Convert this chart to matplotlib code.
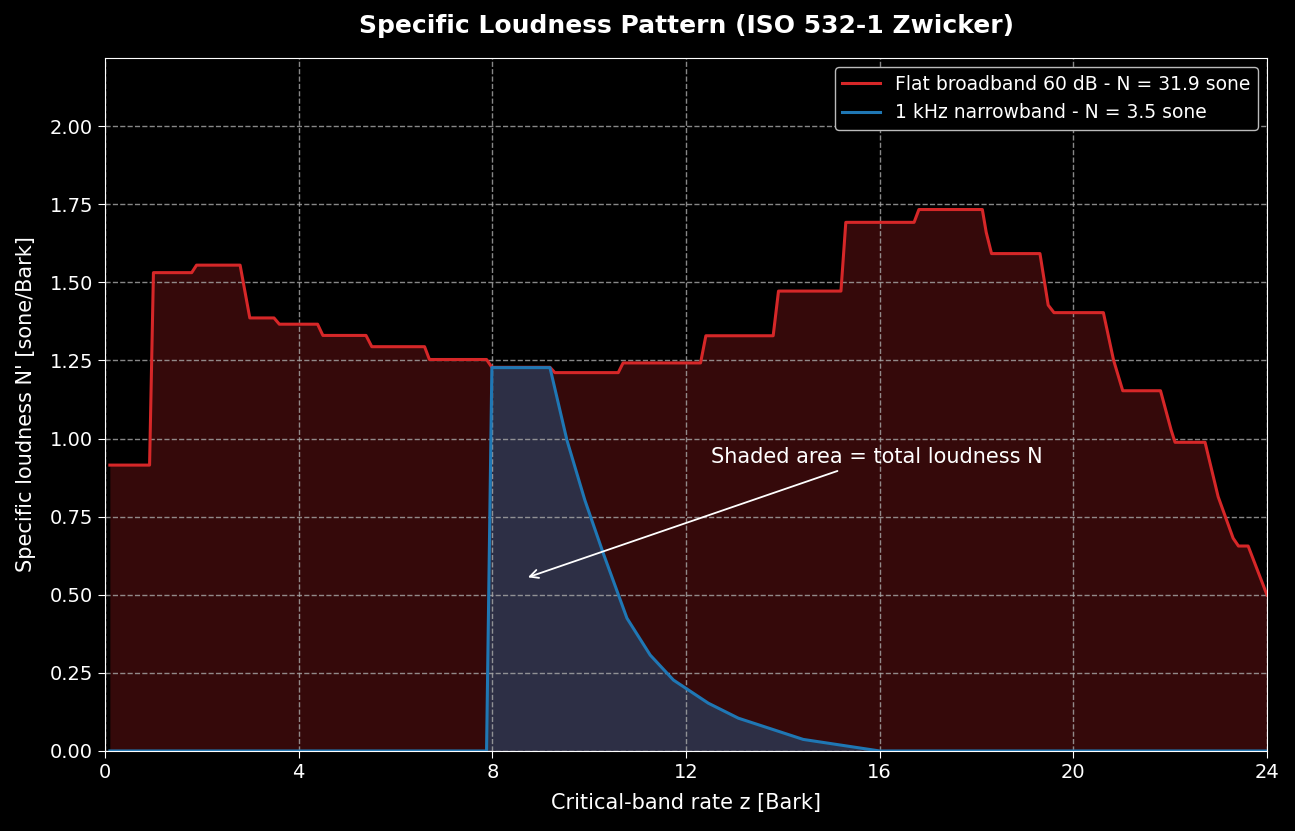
import numpy as np
import matplotlib.pyplot as plt

plt.rcParams['font.family'] = ['DejaVu Sans']

# flat broadband 60 dB, specific loudness
z_flat = [0.1, 0.92, 1.0, 1.79, 1.89, 2.79, 2.99, 3.49, 3.6, 4.39, 4.5, 5.39, 5.51,
          6.6, 6.7, 7.88, 7.99, 9.19, 9.29, 10.6, 10.7, 12.3, 12.41, 13.8, 13.91,
          15.2, 15.3, 16.71, 16.81, 18.12, 18.2, 18.31, 19.31, 19.48, 19.6, 20.62,
          20.83, 21.02, 21.8, 22.02, 22.1, 22.72, 22.99, 23.3, 23.41, 23.61, 24.0]
n_flat = [0.915, 0.915, 1.531, 1.531, 1.555, 1.555, 1.386, 1.386, 1.366, 1.366,
          1.33, 1.33, 1.294, 1.294, 1.253, 1.253, 1.228, 1.228, 1.211, 1.211,
          1.242, 1.242, 1.329, 1.329, 1.472, 1.472, 1.692, 1.692, 1.733, 1.733,
          1.66, 1.592, 1.592, 1.427, 1.403, 1.403, 1.251, 1.153, 1.153, 1.027,
          0.988, 0.988, 0.814, 0.681, 0.656, 0.656, 0.499]

# 1 kHz narrowband
z_tone = [0.1, 7.88, 7.99, 9.19, 9.54, 9.91, 10.29, 10.78, 11.26, 11.74, 12.46, 13.08,
          14.42, 16.0, 24.0]
n_tone = [0.0, 0.0, 1.227, 1.227, 0.995, 0.803, 0.633, 0.425, 0.307, 0.227, 0.153,
          0.105, 0.037, 0.0, 0.0]

N_flat = 31.9
N_tone = 3.5

red = '#d62728'
blue = '#1f77b4'

fig = plt.figure(figsize=(12.95, 8.31), dpi=100, facecolor='black')
ax = fig.add_axes([0.0811, 0.0963, 0.8973, 0.8339], facecolor='black')

ax.fill_between(z_flat, n_flat, 0, color=red, alpha=0.25, linewidth=0)
ax.plot(z_flat, n_flat, color=red, lw=2.2, label=f'Flat broadband 60 dB - N = {N_flat} sone')
ax.fill_between(z_tone, n_tone, 0, color=blue, alpha=0.35, linewidth=0)
ax.plot(z_tone, n_tone, color=blue, lw=2.2, label=f'1 kHz narrowband - N = {N_tone} sone')

ax.set_xlim(0, 24)
ax.set_ylim(0, 2.218)
ax.set_xticks(np.arange(0, 25, 4))
ax.set_yticks(np.arange(0, 2.01, 0.25))
ax.yaxis.set_major_formatter(plt.FormatStrFormatter('%.2f'))

ax.grid(True, color='#aaaaaa', ls='--', lw=1, alpha=0.8)
for s in ax.spines.values():
    s.set_color('white')
ax.tick_params(colors='white', labelsize=14, length=5)

ax.set_xlabel('Critical-band rate z [Bark]', color='white', fontsize=15, labelpad=8)
ax.set_ylabel("Specific loudness N' [sone/Bark]", color='white', fontsize=15, labelpad=10)
ax.set_title('Specific Loudness Pattern (ISO 532-1 Zwicker)', color='white',
             fontsize=18, fontweight='bold', pad=18)

ax.annotate('Shaded area = total loudness N', xy=(8.68, 0.553), xytext=(15.95, 0.94),
            ha='center', va='center', color='white', fontsize=15,
            arrowprops=dict(arrowstyle='->', color='white', lw=1.3))

leg = ax.legend(loc='upper right', fontsize=13.5, facecolor='black', edgecolor='#bbbbbb',
                labelcolor='white', framealpha=1)

fig.savefig('out.png', dpi=100, facecolor='black')
